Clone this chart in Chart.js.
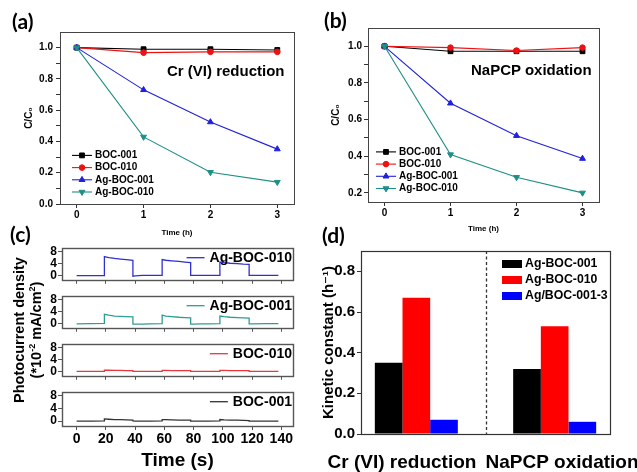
<!DOCTYPE html>
<html>
<head>
<meta charset="utf-8">
<script src="https://cdn.jsdelivr.net/npm/chart.js@4.4.1/dist/chart.umd.min.js"></script>
<style>
  body { margin: 0; background: #fff; }
  #page { position: relative; width: 637px; height: 472px; overflow: hidden; background: #fff; }
  canvas { position: absolute; }
  .txt { position: absolute; white-space: nowrap; font-family: "Liberation Sans", Arial, sans-serif; font-weight: bold; color: #000; line-height: 1; }
  .tag { font-family: Lato, "Open Sans", sans-serif; font-size: 21px; }
  .note { font-size: 15px; }
  sup { font-size: 9px; vertical-align: 6px; line-height: 0; }
</style>
</head>
<body>
<div id="page">
  <canvas id="chartA"></canvas>
  <canvas id="chartB"></canvas>
  <canvas id="chartC1"></canvas>
  <canvas id="chartC2"></canvas>
  <canvas id="chartC3"></canvas>
  <canvas id="chartC4"></canvas>
  <canvas id="chartD"></canvas>

  <div class="txt tag" style="left:12px;top:10px">(a)</div>
  <div class="txt tag" style="left:324px;top:9px">(b)</div>
  <div class="txt tag" style="left:10px;top:223px">(c)</div>
  <div class="txt tag" style="left:322px;top:224px">(d)</div>

  <div class="txt note" style="left:167px;top:63px">Cr (VI) reduction</div>
  <div class="txt note" style="left:471px;top:62px">NaPCP oxidation</div>

  <div class="txt" style="left:-52px;top:313px;width:160px;text-align:center;font-size:14.5px;line-height:17px;transform:rotate(-90deg);">Photocurrent density<br>(*10<sup>-2</sup> mA/cm<sup>2</sup>)</div>
</div>

<script>
// ---------- (a) / (b) : C/C0 vs time ----------
const TIME_H = [0, 1, 2, 3];
const SAMPLES = ["BOC-001", "BOC-010", "Ag-BOC-001", "Ag-BOC-010"];

const CR_BOC_001 = [1.0, 0.99, 0.99, 0.985];
const CR_BOC_010 = [1.0, 0.968, 0.973, 0.973];
const CR_AG_BOC_001 = [1.0, 0.73, 0.524, 0.351];
const CR_AG_BOC_010 = [1.0, 0.429, 0.203, 0.14];

const NA_BOC_001 = [1.0, 0.973, 0.973, 0.973];
const NA_BOC_010 = [1.0, 0.993, 0.977, 0.993];
const NA_AG_BOC_001 = [1.0, 0.689, 0.512, 0.387];
const NA_AG_BOC_010 = [1.0, 0.409, 0.285, 0.2];

const C_TICKS_A = [0, 0.2, 0.4, 0.6, 0.8, 1.0];
const C_MINOR_A = [0.1, 0.3, 0.5, 0.7, 0.9];
const C_TICKS_B = [0.2, 0.4, 0.6, 0.8, 1.0];
const C_MINOR_B = [0.3, 0.5, 0.7, 0.9];

// ---------- (c) : photocurrent ----------
const TIME_S = [0, 10, 19, 19, 22, 26, 30, 34, 38.5, 38.5,
  40, 45, 50, 58.5, 58.5, 61, 65, 70, 74, 78,
  78, 80, 85, 90, 98, 98, 101, 105, 110, 114,
  118, 118, 120, 130, 138];
const J_AG_BOC_010 = [-0.1, -0.1, -0.1, 6.2, 5.9, 5.6, 5.4, 5.2, 5.0, -0.3,
  -0.2, 0, 0, 0, 5.2, 5.0, 4.8, 4.6, 4.4, 4.2,
  0, 0, 0, 0, 0, 4.4, 4.2, 4.0, 3.9, 3.7,
  3.6, 0, 0, 0, 0];
const J_AG_BOC_001 = [-0.2, -0.1, 0, 3.0, 2.7, 2.4, 2.3, 2.2, 2.1, -0.3,
  -0.3, -0.3, -0.2, -0.1, 2.7, 2.4, 2.2, 2.0, 1.9, 1.8,
  -0.3, -0.3, -0.2, -0.2, -0.1, 2.4, 2.2, 2.0, 1.9, 1.8,
  1.7, -0.2, -0.2, -0.1, -0.1];
const J_BOC_010 = [0, 0, 0, 0.4, 0.35, 0.3, 0.3, 0.25, 0.2, 0,
  0, 0, 0, 0, 0.3, 0.3, 0.25, 0.25, 0.2, 0.2,
  0, 0, 0, 0, 0, 0.3, 0.3, 0.25, 0.25, 0.2,
  0.2, 0, 0, 0, 0];
const J_BOC_001 = [0, 0, 0.1, 0.7, 0.6, 0.5, 0.45, 0.4, 0.3, 0.1,
  0, 0, 0, 0.1, 0.5, 0.45, 0.4, 0.35, 0.3, 0.3,
  0, 0, 0, 0, 0.1, 0.5, 0.4, 0.35, 0.3, 0.25,
  0.2, 0, 0, 0, 0];
const TIME_S_TICKS = [0, 20, 40, 60, 80, 100, 120, 140];
const J_TICKS = [0, 4, 8];

// ---------- (d) : kinetic constants ----------
const REACTIONS = ["Cr (VI) reduction", "NaPCP oxidation"];
const K_LABELS = ["Ag-BOC-001", "Ag-BOC-010", "Ag/BOC-001-3"];
const K_AG_BOC_001 = [0.35, 0.32];
const K_AG_BOC_010 = [0.67, 0.53];
const K_AG_BOC_001_3 = [0.07, 0.06];
const K_TICKS = [0, 0.2, 0.4, 0.6, 0.8];

const FAMILY = '"Liberation Sans", Arial, "DejaVu Sans", sans-serif';
const bold = size => ({ family: FAMILY, size, weight: "bold" });

function place(id, left, top, width, height) {
  const c = document.getElementById(id);
  c.width = width;
  c.height = height;
  c.style.left = left + "px";
  c.style.top = top + "px";
  return c;
}

// frame around plot area
const framePlugin = {
  id: "frame",
  afterDraw(chart, args, o) {
    const { ctx, chartArea: a } = chart;
    ctx.save();
    ctx.strokeStyle = o.color || "#333";
    ctx.lineWidth = o.width || 1;
    const l = Math.round(a.left) + 0.5, t = Math.round(a.top) + 0.5;
    ctx.strokeRect(l, t, Math.round(a.right) - Math.round(a.left), Math.round(a.bottom) - Math.round(a.top));
    ctx.restore();
  }
};

// legend drawn inside plot area
const insideLegend = {
  id: "insideLegend",
  afterDraw(chart, args, o) {
    const { ctx, chartArea: area } = chart;
    const sets = chart.data.datasets;
    ctx.save();
    ctx.font = o.textFont;
    ctx.textBaseline = "middle";
    sets.forEach((ds, i) => {
      const y = o.bottom != null
        ? area.bottom - o.bottom - (sets.length - 1 - i) * o.row
        : area.top + o.top + i * o.row;
      const w = ctx.measureText(ds.label).width;
      const x0 = o.right != null ? area.right - o.right - w - o.gap - o.sample : area.left + o.left;
      if (o.box) {
        ctx.fillStyle = ds.backgroundColor;
        ctx.fillRect(x0, y - o.boxH / 2, o.sample, o.boxH);
      } else {
        ctx.strokeStyle = ds.borderColor;
        ctx.lineWidth = ds.borderWidth;
        ctx.beginPath();
        ctx.moveTo(x0, y);
        ctx.lineTo(x0 + o.sample, y);
        ctx.stroke();
        if (ds.pointRadius) {
          ctx.fillStyle = ds.pointBackgroundColor;
          ctx.strokeStyle = ds.pointBorderColor;
          ctx.lineWidth = 1;
          Chart.helpers.drawPoint(ctx, {
            pointStyle: ds.pointStyle, radius: ds.pointRadius,
            rotation: ds.pointRotation || 0, borderWidth: 1
          }, x0 + o.sample / 2, y);
        }
      }
      ctx.fillStyle = "#000";
      ctx.fillText(ds.label, x0 + o.sample + o.gap, y);
    });
    ctx.restore();
  }
};

// dashed separator between the two reactions in (d)
const separator = {
  id: "separator",
  afterDatasetsDraw(chart, args, o) {
    const { ctx, chartArea: a } = chart;
    const x = Math.round(chart.scales.x.getPixelForValue(o.value)) + 0.5;
    ctx.save();
    ctx.strokeStyle = "#333";
    ctx.lineWidth = 1.3;
    ctx.setLineDash([3, 2.5]);
    ctx.beginPath();
    ctx.moveTo(x, a.top);
    ctx.lineTo(x, a.bottom);
    ctx.stroke();
    ctx.restore();
  }
};

function axis(o) {
  return {
    type: "linear",
    position: o.position,
    min: o.min,
    max: o.max,
    weight: o.weight || 0,
    display: o.display !== false,
    afterBuildTicks: s => { s.ticks = o.ticks.map(v => ({ value: v })); },
    afterFit: s => {
      if (s.isHorizontal()) s.height = o.size; else s.width = o.size;
      if (o.noPad) { s.paddingLeft = 0; s.paddingRight = 0; }
    },
    border: { display: false },
    grid: {
      display: o.tickLength !== 0,
      drawOnChartArea: false,
      drawTicks: o.tickLength !== 0,
      tickLength: o.tickLength == null ? 4 : o.tickLength,
      tickColor: o.tickColor || "#333",
      tickWidth: 1
    },
    ticks: {
      display: o.labels !== false,
      autoSkip: false,
      maxRotation: 0,
      minRotation: 0,
      padding: o.pad || 0,
      color: "#000",
      font: o.font,
      callback: o.callback || (v => v)
    },
    title: o.title
      ? { display: true, text: o.title, font: o.titleFont, color: "#000", padding: o.titlePad }
      : { display: false }
  };
}

function points(xs, ys) {
  return xs.map((x, i) => ({ x, y: ys[i] }));
}

const MARKERS = [
  { color: "#000000", style: "rect", radius: 3.4, rotation: 0 },
  { color: "#ee1111", style: "circle", radius: 2.8, rotation: 0 },
  { color: "#2020dd", style: "triangle", radius: 3.4, rotation: 0 },
  { color: "#1e8f86", style: "triangle", radius: 3.4, rotation: 180 }
];

function decaySets(series) {
  return series.map((vals, i) => ({
    label: SAMPLES[i],
    data: points(TIME_H, vals),
    borderColor: MARKERS[i].color,
    borderWidth: 1.1,
    pointStyle: MARKERS[i].style,
    pointRotation: MARKERS[i].rotation,
    pointRadius: MARKERS[i].radius,
    pointBackgroundColor: MARKERS[i].color,
    pointBorderColor: MARKERS[i].color,
    pointBorderWidth: 1,
    tension: 0
  }));
}

function decayChart(id, box, frame, series, cfg) {
  const canvas = place(id, box.x, box.y, box.w, box.h);
  const majors = cfg.majors;
  return new Chart(canvas, {
    type: "line",
    data: { datasets: decaySets(series).reverse() },
    options: {
      responsive: false,
      animation: false,
      layout: { padding: { left: 0, top: frame.t - box.y, right: box.x + box.w - frame.r, bottom: 0 } },
      plugins: {
        legend: { display: false },
        tooltip: { enabled: false },
        frame: { color: "#444", width: 1 },
        insideLegend: Object.assign({ textFont: "bold 10px " + FAMILY, sample: 20, gap: 3, row: 12.2, reversed: true }, cfg.legend)
      },
      scales: {
        x: axis({
          position: "bottom", min: -0.25, max: 3.25, ticks: TIME_H,
          size: box.y + box.h - frame.b, pad: 1, font: bold(10),
          title: "Time (h)", titleFont: bold(8), titlePad: { top: 0, bottom: cfg.xTitlePad }
        }),
        y: axis({
          position: "left", min: cfg.min, max: 1.1, ticks: majors.concat(cfg.minors),
          size: frame.l - box.x, pad: cfg.yPad, font: bold(10),
          callback: v => (majors.includes(v) ? v.toFixed(1) : ""),
          title: "C/C\u2080", titleFont: bold(10), titlePad: { top: cfg.yTitlePad, bottom: 0 }
        })
      }
    },
    plugins: [framePlugin, insideLegend]
  });
}

// legend order should follow SAMPLES even though datasets are reversed for drawing
insideLegend.afterDraw = (function (orig) {
  return function (chart, args, o) {
    if (o.reversed) {
      const saved = chart.data.datasets;
      chart.data.datasets = saved.slice().reverse();
      orig.call(this, chart, args, o);
      chart.data.datasets = saved;
    } else {
      orig.call(this, chart, args, o);
    }
  };
})(insideLegend.afterDraw);

decayChart("chartA", { x: 0, y: 22, w: 300, h: 222 }, { l: 60, t: 32, r: 294, b: 204 },
  [CR_BOC_001, CR_BOC_010, CR_AG_BOC_001, CR_AG_BOC_010],
  { min: 0, majors: C_TICKS_A, minors: C_MINOR_A, yPad: 3, yTitlePad: 23, xTitlePad: 6,
    legend: { left: 12, bottom: 12 } });

decayChart("chartB", { x: 318, y: 18, w: 319, h: 226 }, { l: 368, t: 28, r: 599, b: 202 },
  [NA_BOC_001, NA_BOC_010, NA_AG_BOC_001, NA_AG_BOC_010],
  { min: 0.15, majors: C_TICKS_B, minors: C_MINOR_B, yPad: 2, yTitlePad: 12, xTitlePad: 10,
    legend: { left: 8, bottom: 13.5 } });

// ---------- (c) ----------
function currentChart(id, top, height, frameTop, frameBottom, values, color, label, last) {
  const box = { x: 40, y: top, w: 260, h: height };
  const frame = { l: 62, r: 293, t: frameTop, b: frameBottom };
  return new Chart(place(id, box.x, box.y, box.w, box.h), {
    type: "line",
    data: {
      datasets: [{
        label,
        data: points(TIME_S, values),
        borderColor: color,
        borderWidth: 1.3,
        pointRadius: 0,
        tension: 0
      }]
    },
    options: {
      responsive: false,
      animation: false,
      layout: { padding: { left: 0, top: frame.t - box.y, right: box.x + box.w - frame.r, bottom: 0 } },
      plugins: {
        legend: { display: false },
        tooltip: { enabled: false },
        frame: { color: "#555", width: 1.4 },
        insideLegend: { textFont: "bold 14px " + FAMILY, sample: 18, gap: 5, row: 0, right: 1, top: 9.5 }
      },
      scales: {
        x: axis({
          position: "bottom", min: -10, max: 148, ticks: TIME_S_TICKS,
          size: box.y + box.h - frame.b, pad: 1, font: bold(14), labels: last, tickColor: "#555",
          title: last ? "Time (s)" : null, titleFont: bold(19), titlePad: { top: 0, bottom: 0 }
        }),
        y: axis({
          position: "left", min: -1.5, max: 9, ticks: J_TICKS,
          size: frame.l - box.x, pad: 1, font: bold(12), tickColor: "#555"
        })
      }
    },
    plugins: [framePlugin, insideLegend]
  });
}

currentChart("chartC1", 240, 48, 245, 282, J_AG_BOC_010, "#3030d0", "Ag-BOC-010", false);
currentChart("chartC2", 288, 48, 293, 330, J_AG_BOC_001, "#2e9d93", "Ag-BOC-001", false);
currentChart("chartC3", 336, 48, 341, 378, J_BOC_010, "#e8383d", "BOC-010", false);
currentChart("chartC4", 384, 88, 389, 426, J_BOC_001, "#333333", "BOC-001", true);

// ---------- (d) ----------
(function () {
  const box = { x: 318, y: 240, w: 319, h: 232 };
  const frame = { l: 361, t: 249, r: 610, b: 434 };
  const idx = REACTIONS.map((r, i) => i);
  const colors = ["#000000", "#ff0000", "#0000ff"];
  const series = [K_AG_BOC_001, K_AG_BOC_010, K_AG_BOC_001_3];
  new Chart(place("chartD", box.x, box.y, box.w, box.h), {
    type: "bar",
    data: {
      datasets: series.map((vals, i) => ({
        label: K_LABELS[i],
        data: points(idx, vals),
        backgroundColor: colors[i],
        borderColor: colors[i],
        borderWidth: 0,
        categoryPercentage: 0.6,
        barPercentage: 1.0
      }))
    },
    options: {
      responsive: false,
      animation: false,
      layout: { padding: { left: 0, top: frame.t - box.y, right: box.x + box.w - frame.r, bottom: 0 } },
      plugins: {
        legend: { display: false },
        tooltip: { enabled: false },
        frame: { color: "#333", width: 1.2 },
        separator: { value: (REACTIONS.length - 1) / 2 },
        insideLegend: { textFont: "bold 12.3px " + FAMILY, sample: 20, gap: 3, row: 16, left: 141, top: 13, box: true, boxH: 8 }
      },
      scales: {
        x: Object.assign(axis({ position: "bottom", min: -0.4, max: 1.4, ticks: idx, size: 0, display: false }), { offset: false }),
        x2: Object.assign(axis({
          position: "bottom", min: -0.256, max: 1.3, ticks: idx, weight: 1,
          size: box.y + box.h - frame.b, tickLength: 0, pad: 17, font: bold(19), noPad: true,
          callback: v => REACTIONS[v]
        }), { offset: false }),
        y: axis({
          position: "left", min: 0, max: 0.9, ticks: K_TICKS,
          size: frame.l - box.x, pad: 2, font: bold(15),
          callback: v => v.toFixed(1),
          title: "Kinetic constant (h\u207B\u00B9)", titleFont: bold(15), titlePad: { top: 2, bottom: 0 }
        })
      }
    },
    plugins: [framePlugin, insideLegend, separator]
  });
})();
</script>
</body>
</html>
